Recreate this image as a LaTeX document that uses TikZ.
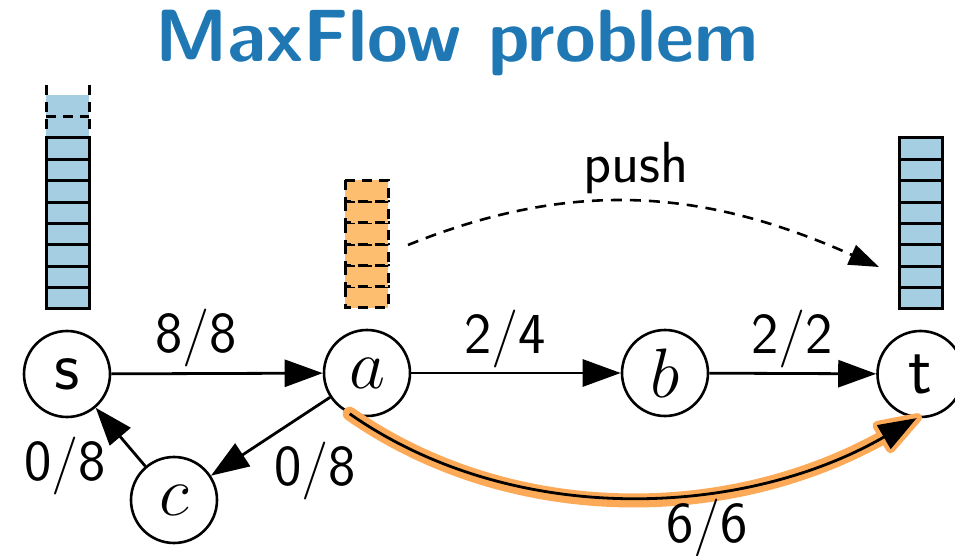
\RequirePackage{fix-cm}
\documentclass[tikz,border=0pt]{standalone}
\usetikzlibrary{arrows.meta,calc}
\definecolor{titleblue}{RGB}{31,120,180}
\definecolor{stackblue}{RGB}{166,206,227}
\definecolor{stackorange}{RGB}{253,191,111}
\definecolor{pathorange}{RGB}{253,170,88}
\renewcommand\familydefault{\sfdefault}
\begin{document}
\begin{tikzpicture}[x=1bp,y=-1bp,
  vertex/.style={circle,draw,fill=white,minimum size=86bp,inner sep=0pt,
    line width=2.6bp,font=\fontsize{70bp}{70bp}\selectfont},
  edge/.style={line width=2.8bp,-{Triangle[length=38bp,width=27bp]}},
  flowlabel/.style={inner sep=0pt,font=\fontsize{58bp}{58bp}\selectfont},
  cell/.style={line width=3bp,fill=#1},
  dcell/.style={line width=3bp,fill=#1,dash pattern=on 10bp off 7bp}]
\useasboundingbox (0,0) rectangle (955,556);
\clip (0,0) rectangle (955,556);

% title
\node[text=titleblue,inner sep=0pt,anchor=base,
  font=\sffamily\bfseries\fontsize{74bp}{74bp}\selectfont]
  (title) at (457,62) {MaxFlow problem};

% excess stack at s: eight full cells and two dashed ones on top
\fill[stackblue] (46,95) rectangle (89,138);
\draw[line width=3bp,dash pattern=on 10bp off 7bp] (46,85) -- (46,138) (89,85) -- (89,138);
\draw[line width=3bp,dash pattern=on 10bp off 7bp] (46,117) -- (89,117);
\foreach \i in {0,...,7}
  \draw[cell=stackblue] (46,{309-21.375*(\i+1)}) rectangle (89,{309-21.375*\i});

% excess stack at t
\foreach \i in {0,...,7}
  \draw[cell=stackblue] (899,{309-21.375*(\i+1)}) rectangle (942,{309-21.375*\i});

% excess stack at a, being pushed
\foreach \i in {0,...,5}
  \draw[dcell=stackorange] (345,{308-21.3*(\i+1)}) rectangle (388,{308-21.3*\i});

% push arrow
\coordinate (pushfrom) at (408,245);
\coordinate (pushto) at (879,267);
\draw[line width=2.6bp,dash pattern=on 11bp off 8bp,-{Triangle[length=30bp,width=21bp]}]
  (pushfrom) to[out=22,in=156] (pushto);
\node[font=\fontsize{58bp}{58bp}\selectfont,inner sep=0pt,anchor=base] (pushlabel) at (636,183) {push};

% vertices
\node[vertex] (s) at (67,374) {s};
\node[vertex] (a) at (367,373) {$a$};
\node[vertex] (b) at (665,373) {$b$};
\node[vertex] (t) at (920.5,374) {t};
\node[vertex] (c) at (174,500) {$c$};

% highlighted augmenting edge: orange halo round the line and its tip
\draw[pathorange,line width=14bp,line cap=round]
  (a.-113) to[out=-35,in=-150,looseness=0.9] ($(t.-95)+(210:30bp)$);
\draw[pathorange,fill=pathorange,line width=9bp,line join=round]
  ($(t.-95)+(30:1bp)$) -- ($(t.-95)+(210:38bp)+(120:13.5bp)$)
  -- ($(t.-95)+(210:38bp)+(300:13.5bp)$) -- cycle;
\draw[edge] (a.-113) to[out=-35,in=-150,looseness=0.9] (t.-95);

% edges
\draw[edge] (s) -- (a);
\draw[edge] (a) -- (b);
\draw[edge] (b) -- (t);
\draw[edge] (a) -- (c);
\draw[edge] (c) -- (s);

% flow labels
\node[flowlabel] (fsa) at (196,338) {8/8};
\node[flowlabel] (fab) at (505,339) {2/4};
\node[flowlabel] (fbt) at (792,339) {2/2};
\node[flowlabel] (fcs) at (65,466) {0/8};
\node[flowlabel] (fac) at (315,471) {0/8};
\node[flowlabel] (fat) at (707,528) {6/6};
\end{tikzpicture}
\end{document}
